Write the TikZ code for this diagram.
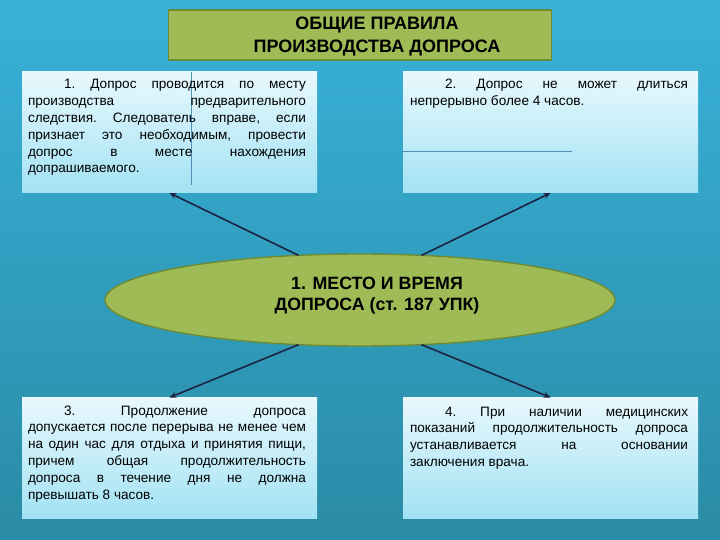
\documentclass[tikz,border=0pt]{standalone}
\usepackage{fontspec}
\setmainfont{Liberation Sans}
\usetikzlibrary{shapes.geometric,arrows.meta}
\definecolor{bgtop}{HTML}{38B1D9}
\definecolor{bgbot}{HTML}{2A8BA5}
\definecolor{boxtop}{HTML}{E8F8FD}
\definecolor{boxbot}{HTML}{A2E2F4}
\definecolor{olive}{HTML}{9EBB55}
\definecolor{olivedark}{HTML}{6E8A35}
\definecolor{arrowc}{HTML}{1B2442}
\definecolor{strayc}{HTML}{4F8FB3}
\newsavebox\splbox
\newcommand\spl[1]{\sbox\splbox{#1}\ifdim\wd\splbox>\linewidth
  \resizebox{\linewidth}{\height}{#1}\else\makebox[\linewidth][s]{#1}\fi\\}
\tikzset{
  infobox/.style={minimum width=295pt, minimum height=121pt, inner sep=0pt, outer sep=0pt,
    top color=boxtop, bottom color=boxbot, draw=none},
  infotext/.style={anchor=base west, inner sep=0pt, outer sep=0pt, font=\fontsize{13.6}{16.8}\selectfont\frenchspacing},
  titlebox/.style={minimum width=383pt, minimum height=50pt, inner sep=0pt, outer sep=0pt,
    fill=olive, draw=olivedark, line width=1.6pt},
  centerell/.style={ellipse, minimum width=510pt, minimum height=92pt, inner sep=0pt, outer sep=0pt,
    fill=olive, draw=olivedark, line width=1.4pt},
  boldtext/.style={align=center, text=black},
  arr/.style={draw=arrowc, line width=1.6pt, -{Stealth[length=7pt,width=6pt]}},
  stray/.style={draw=strayc, line width=0.8pt}
}
\begin{document}
\begin{tikzpicture}[x=1pt,y=-1pt]
\useasboundingbox (0,0) rectangle (720,540);
\shade[top color=bgtop, bottom color=bgbot] (0,0) rectangle (720,540);

\node[titlebox] (tb) at (360,35) {};
\node[boldtext, font=\bfseries\fontsize{18}{23}\selectfont] (tt) at (377,36.5) {ОБЩИЕ ПРАВИЛА\\ПРОИЗВОДСТВА ДОПРОСА};

\node[infobox] (b1) at (169.5,132.5) {};
\node[infobox] (b2) at (550.5,132.5) {};
\node[infobox] (b3) at (169.5,458) {};
\node[infobox] (b4) at (550.5,458) {};

\coordinate (s1a) at (191,72);
\coordinate (s1b) at (191,185);
\draw[stray] (s1a) -- (s1b);
\coordinate (s2a) at (403,151);
\coordinate (s2b) at (572,151);
\draw[stray] (s2a) -- (s2b);

\node[infotext] (t1) at (28,89) {\parbox[t]{278pt}{%
\spl{\hspace*{36pt}1. Допрос проводится по месту}
\spl{производства предварительного}
\spl{следствия. Следователь вправе, если}
\spl{признает это необходимым, провести}
\spl{допрос в месте нахождения}
допрашиваемого.}};

\node[infotext] (t2) at (410,89) {\parbox[t]{278pt}{%
\spl{\hspace*{35pt}2. Допрос не может длиться}
непрерывно более 4 часов.}};

\node[infotext] (t3) at (28,415) {\parbox[t]{278pt}{%
\spl{\hspace*{36pt}3. Продолжение допроса}
\spl{допускается после перерыва не менее чем}
\spl{на один час для отдыха и принятия пищи,}
\spl{причем общая продолжительность}
\spl{допроса в течение дня не должна}
превышать 8 часов.}};

\node[infotext] (t4) at (410,416) {\parbox[t]{278pt}{%
\spl{\hspace*{35pt}4. При наличии медицинских}
\spl{показаний продолжительность допроса}
\spl{устанавливается на основании}
заключения врача.}};

\node[centerell] (el) at (360,300) {};
\node[boldtext, font=\bfseries\fontsize{17.8}{21}\selectfont] (et) at (377,296) {1. МЕСТО И ВРЕМЯ\\ДОПРОСА (ст. 187 УПК)};

\draw[arr] (el.144) -- (b1.south);
\draw[arr] (el.36) -- (b2.south);
\draw[arr] (el.216) -- (b3.north);
\draw[arr] (el.324) -- (b4.north);
\end{tikzpicture}
\end{document}
